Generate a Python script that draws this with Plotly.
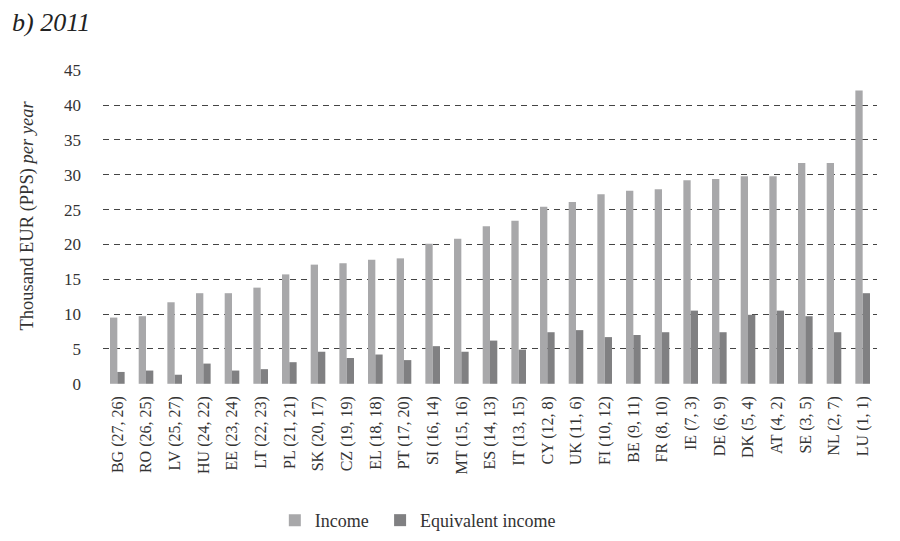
import plotly.graph_objects as go

countries = ["BG (27, 26)", "RO (26, 25)", "LV (25, 27)", "HU (24, 22)", "EE (23, 24)",
             "LT (22, 23)", "PL (21, 21)", "SK (20, 17)", "CZ (19, 19)", "EL (18, 18)",
             "PT (17, 20)", "SI (16, 14)", "MT (15, 16)", "ES (14, 13)", "IT (13, 15)",
             "CY (12, 8)", "UK (11, 6)", "FI (10, 12)", "BE (9, 11)", "FR (8, 10)",
             "IE (7, 3)", "DE (6, 9)", "DK (5, 4)", "AT (4, 2)", "SE (3, 5)",
             "NL (2, 7)", "LU (1, 1)"]

income = [9.5, 9.7, 11.7, 13.0, 13.0, 13.8, 15.7, 17.1, 17.3, 17.8,
          18.0, 20.1, 20.8, 22.6, 23.4, 25.4, 26.1, 27.2, 27.7, 27.9,
          29.2, 29.4, 29.8, 29.8, 31.7, 31.7, 42.1]

equivalent = [1.7, 1.9, 1.3, 2.9, 1.9, 2.1, 3.1, 4.6, 3.7, 4.2,
              3.4, 5.4, 4.6, 6.2, 4.9, 7.4, 7.7, 6.7, 7.0, 7.4,
              10.5, 7.4, 9.9, 10.5, 9.7, 7.4, 13.0]

y_ticks = [0, 5, 10, 15, 20, 25, 30, 35, 40, 45]

serif = "Liberation Serif, Times New Roman, serif"
legend_font = dict(family=serif, size=18, color="#333333")

fig = go.Figure()
fig.add_trace(go.Bar(x=countries, y=income, name="Income", legend="legend",
                     marker=dict(color="#a8a8aa", line=dict(width=0))))
fig.add_trace(go.Bar(x=countries, y=equivalent, name="Equivalent income", legend="legend2",
                     marker=dict(color="#808082", line=dict(width=0))))

fig.update_layout(
    width=900, height=541,
    margin=dict(l=95, r=31, t=62, b=164),
    paper_bgcolor="white", plot_bgcolor="white",
    barmode="group", bargap=0.49, bargroupgap=0,
    font=dict(family=serif, color="#333333", size=16),
    showlegend=True,
    legend=dict(orientation="h", x=0.222, xanchor="left", y=-0.43, yanchor="middle",
                font=legend_font, itemwidth=30),
    legend2=dict(orientation="h", x=0.358, xanchor="left", y=-0.43, yanchor="middle",
                 font=legend_font, itemwidth=30),
    annotations=[
        dict(text="<i>b) 2011</i>", xref="paper", yref="paper",
             x=-0.120, y=1.152, xanchor="left", yanchor="middle",
             showarrow=False, font=dict(family=serif, size=26, color="#222222")),
        dict(text="Thousand EUR (PPS) <i>per year</i>", xref="paper", yref="paper",
             x=-0.0969, y=0.5365, xanchor="center", yanchor="middle", textangle=-90,
             showarrow=False, font=dict(family=serif, size=18.5, color="#333333")),
    ],
)

fig.update_xaxes(
    tickangle=-90, tickfont=dict(family=serif, size=16, color="#333333"),
    showgrid=False, showline=False, ticks="", zeroline=False,
    ticklabelstandoff=8,
)
fig.update_yaxes(
    range=[-0.03, 45.03], tickvals=y_ticks,
    showgrid=True, gridcolor="#444444", gridwidth=1, griddash="6px,5px",
    zeroline=False, showline=False, ticks="",
    tickfont=dict(family=serif, size=17, color="#333333"),
    ticklabelstandoff=21,
)

fig.write_html("out.html")
